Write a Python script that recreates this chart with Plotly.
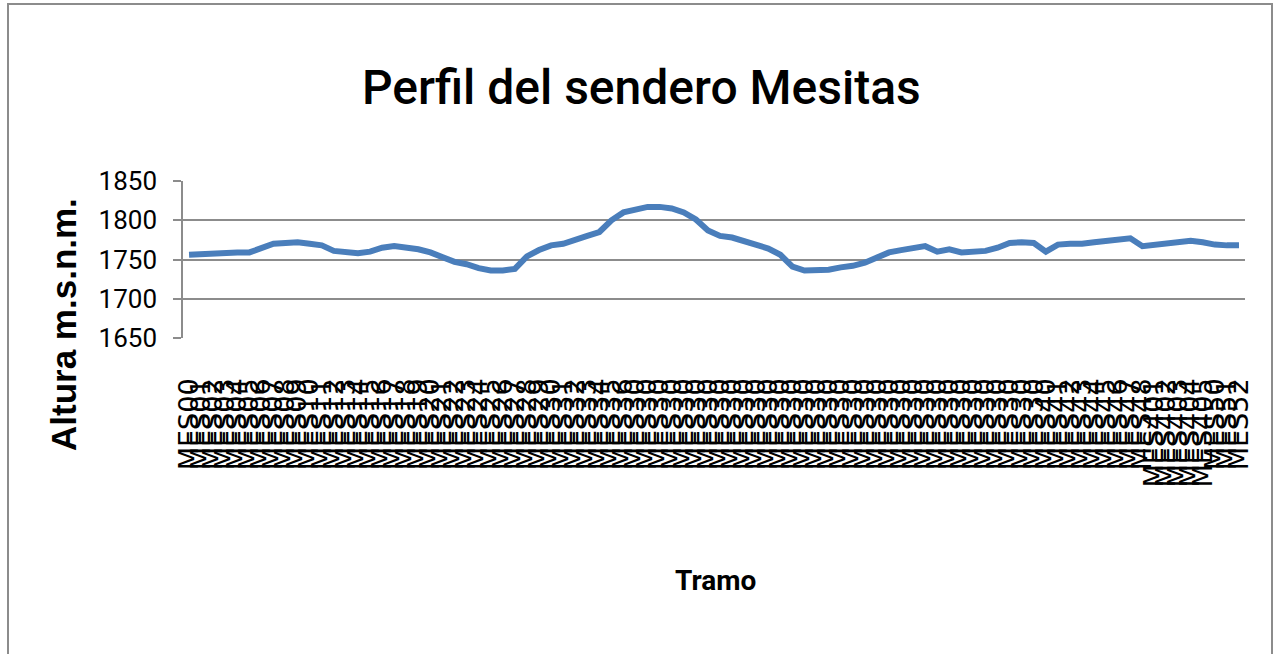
import plotly.graph_objects as go

# ---- data ----
labels = (
    [f"MES0{i}" for i in range(10)]
    + [f"MES1{i}" for i in range(10)]
    + [f"MES2{i}" for i in range(10)]
    + [f"MES3{i}" for i in range(7)]
    + ["MES30"] * 34
    + [f"MES4{i}" for i in range(9)]
    + ["MES401", "MES402", "MES403", "MES404", "MES405"]
    + ["MES50", "MES51", "MES52"]
)

altura = [
    1756, 1757, 1758, 1758, 1759, 1759, 1765, 1770, 1771, 1772,
    1770, 1768, 1761, 1760, 1758, 1760, 1765, 1767, 1765, 1763,
    1759, 1752, 1747, 1744, 1739, 1736, 1736, 1738, 1754, 1762,
    1768, 1770, 1776, 1780, 1785, 1800, 1810, 1814, 1817, 1817,
    1815, 1810, 1801, 1787, 1780, 1778, 1773, 1769, 1764, 1756,
    1741, 1736, 1736, 1737, 1740, 1742, 1746, 1752, 1759, 1762,
    1765, 1767, 1760, 1763, 1759, 1760, 1761, 1765, 1771, 1772,
    1771, 1760, 1769, 1770, 1770, 1772, 1774, 1775, 1777, 1767,
    1769, 1771, 1773, 1774, 1772, 1769, 1768, 1768,
]

y_ticks = [1650, 1700, 1750, 1800, 1850]
title_text = "Perfil del sendero Mesitas"
y_title = "Altura m.s.n.m."
x_title = "Tramo"

idx = list(range(len(altura)))

FONT = "Roboto, Liberation Sans, sans-serif"

fig = go.Figure()
fig.add_trace(go.Scatter(
    x=idx, y=altura, mode="lines",
    line=dict(color="#4a7ebb", width=6),
    hoverinfo="y",
))

W, H = 1285, 654
L, R, T, B = 183, 1285 - 1245, 181, 654 - 338
pw = W - L - R
ph = H - T - B

def px_x(p):
    return (p - L) / pw

def px_y(p):
    return (T + ph - p) / ph

fig.update_layout(
    width=W, height=H,
    margin=dict(l=L, r=R, t=T, b=B, autoexpand=False),
    paper_bgcolor="white", plot_bgcolor="white",
    showlegend=False,
    xaxis=dict(
        range=[-0.5, len(altura) - 0.5],
        tickmode="array", tickvals=idx, ticktext=labels,
        tickangle=-90,
        tickfont=dict(family="DejaVu Sans", size=27, color="black"),
        ticklabelstandoff=34,
        showgrid=False, zeroline=False,
        showline=False, ticks="",
        automargin=False,
    ),
    yaxis=dict(
        range=[1650, 1850],
        tickvals=y_ticks,
        tickfont=dict(family=FONT, size=26, color="black"),
        showgrid=True, gridcolor="#8c8c8c", gridwidth=1.5,
        showline=True, linecolor="#8c8c8c", linewidth=1.5,
        ticks="outside", ticklen=8, tickcolor="#8c8c8c", tickwidth=1.5,
        zeroline=False,
        ticklabelstandoff=11,
        automargin=False,
    ),
    shapes=[
        dict(type="rect", xref="paper", yref="paper",
             x0=px_x(8), x1=px_x(1272), y0=px_y(662), y1=px_y(4),
             line=dict(color="#8c8c8c", width=2), fillcolor="rgba(0,0,0,0)",
             layer="below"),
    ],
    annotations=[
        dict(text=title_text, xref="paper", yref="paper",
             x=px_x(641), y=px_y(88), xanchor="center", yanchor="middle",
             showarrow=False,
             font=dict(family=FONT, size=48, color="black", weight=500)),
        dict(text=f"<b>{y_title}</b>", xref="paper", yref="paper",
             x=px_x(63), y=px_y(325), xanchor="center", yanchor="middle",
             textangle=-90, showarrow=False,
             font=dict(family="Liberation Sans", size=35, color="black")),
        dict(text=f"<b>{x_title}</b>", xref="paper", yref="paper",
             x=px_x(715), y=px_y(580), xanchor="center", yanchor="middle",
             showarrow=False,
             font=dict(family=FONT, size=28, color="black", weight=500)),
    ],
)

fig.write_html("out.html", config={"displayModeBar": False},
               post_script="document.body.style.margin='0';")
